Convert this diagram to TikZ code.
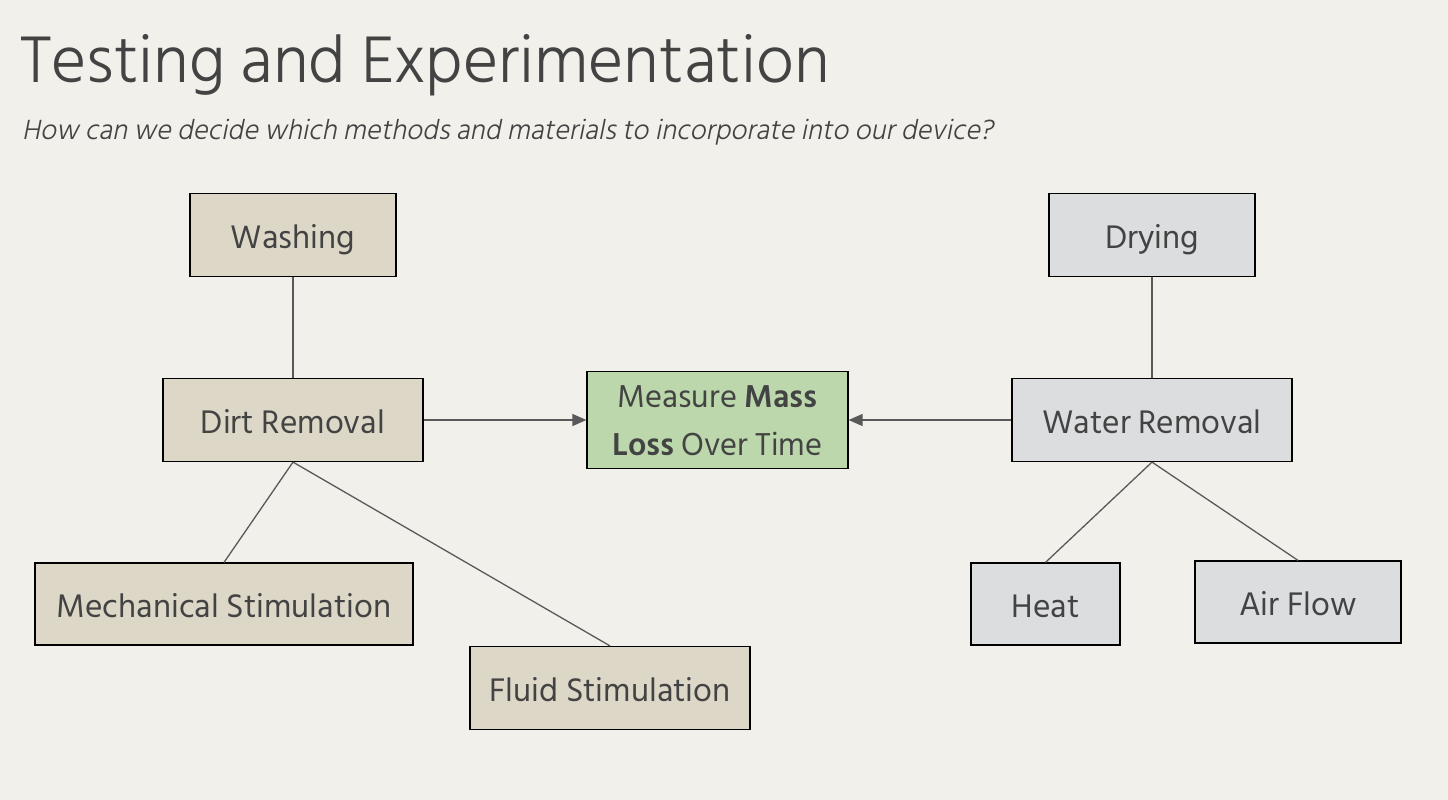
\documentclass[tikz,border=0pt]{standalone}
\usepackage{fontspec}
\setmainfont{Hind Siliguri}
\newfontfamily\titlefont{Hind Siliguri}[UprightFont=* Light, BoldFont=* Light]
\newfontfamily\subfont{Hind Siliguri}[UprightFont=* Light, FakeSlant=0.2]
\usetikzlibrary{arrows.meta}
\definecolor{bg}{HTML}{F2F0EB}
\definecolor{tan}{HTML}{DDD7C8}
\definecolor{grayb}{HTML}{DCDDDF}
\definecolor{greenb}{HTML}{BBD7AB}
\definecolor{txt}{HTML}{434343}
\definecolor{ln}{HTML}{595959}
\newcommand{\lw}[1]{\raisebox{-13pt}[0pt][0pt]{#1}}
\newcommand{\twolines}[2]{\raisebox{13pt}[0pt][0pt]{\makebox[0pt]{#1}}\raisebox{-35.5pt}[0pt][0pt]{\makebox[0pt]{#2}}}
\tikzset{
  box/.style={draw=black, line width=1.2pt, inner sep=0pt, text=txt, font=\fontsize{33.5}{40}\selectfont},
  tanbox/.style={box, fill=tan},
  graybox/.style={box, fill=grayb},
  greenbox/.style={box, fill=greenb, font=\fontsize{32.5}{48}\selectfont},
  conn/.style={draw=ln, line width=1.3pt},
  arr/.style={conn, -{Triangle[length=14pt,width=12pt]}}
}
\begin{document}
\begin{tikzpicture}[x=1pt,y=-1pt]
\fill[bg] (0,0) rectangle (1448,800);
\useasboundingbox (0,0) rectangle (1448,800);
\node[anchor=base west, inner sep=0pt, text=txt, font=\titlefont\fontsize{67.5}{72}\selectfont] (title) at (20,82) {Testing and Experimentation};
\node[anchor=base west, inner sep=0pt, text=txt, font=\subfont\fontsize{28.5}{32}\selectfont] (sub) at (22,139) {How can we decide which methods and materials to incorporate into our device?};

\node[tanbox, minimum width=206pt, minimum height=83pt] (wash) at (293,235) {\lw{Washing}};
\node[tanbox, minimum width=260pt, minimum height=83pt] (dirt) at (293,420) {\lw{Dirt Removal}};
\node[tanbox, minimum width=378pt, minimum height=82pt] (mech) at (224,604) {\lw{Mechanical Stimulation}};
\node[tanbox, minimum width=280pt, minimum height=83pt] (fluid) at (610,688) {\lw{Fluid Stimulation}};
\node[greenbox, minimum width=261pt, minimum height=97pt] (meas) at (717.5,420) {\twolines{Measure \textbf{Mass}}{\textbf{Loss} Over Time}};
\node[graybox, minimum width=206pt, minimum height=83pt] (dry) at (1152,235) {\lw{Drying}};
\node[graybox, minimum width=280pt, minimum height=83pt] (water) at (1152,420) {\lw{Water Removal}};
\node[graybox, minimum width=149pt, minimum height=82pt] (heat) at (1045.5,604) {\lw{Heat}};
\node[graybox, minimum width=206pt, minimum height=82pt] (air) at (1298,602) {\lw{Air Flow}};

\draw[conn] (wash.south) -- (dirt.north);
\draw[conn] (dry.south) -- (water.north);
\draw[conn] (dirt.south) -- (mech.north);
\draw[conn] (dirt.south) -- (fluid.north);
\draw[conn] (water.south) -- (heat.north);
\draw[conn] (water.south) -- (air.north);
\draw[arr] (dirt.east) -- (meas.west);
\draw[arr] (water.west) -- (meas.east);
\end{tikzpicture}
\end{document}
